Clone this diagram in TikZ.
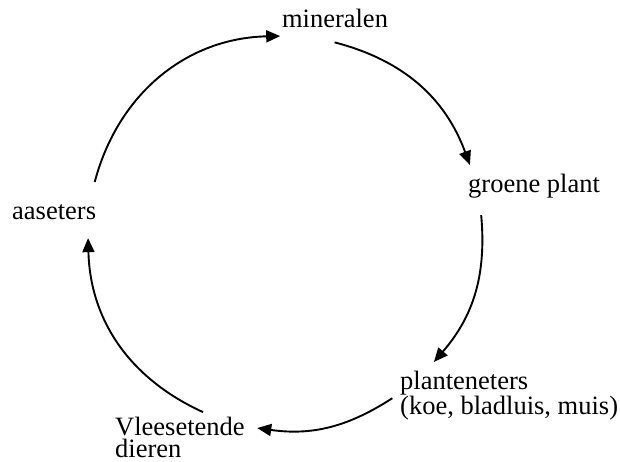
\documentclass[tikz,border=0pt]{standalone}
\usepackage{fontspec}
\setmainfont{Liberation Serif}
\usetikzlibrary{arrows.meta}

\begin{document}
\begin{tikzpicture}[
x=1pt, y=1pt,
label/.style={inner sep=0pt, font=\fontsize{26.5}{22}\selectfont},
arrow/.style={-{Triangle[length=14pt,width=12pt]}, line width=1.9pt}
]
\useasboundingbox (0,0) rectangle (620,462);

% labels
\node[label,anchor=base] (mineralen) at (335,434) {mineralen};
\node[label,anchor=base west] (plant) at (468,269) {groene plant};
\node[label,anchor=north west,align=left] (planteneters) at (400,91) {planteneters\\(koe, bladluis, muis)};
\node[label,anchor=north west,align=left] (vleeseters) at (115,45) {Vleesetende\\dieren};
\node[label,anchor=base west] (aaseters) at (12,242) {aaseters};

% points on the cycle
\coordinate (ctr) at (285,229);
\coordinate (aasOut) at ([shift={(165:197)}]ctr);
\coordinate (minIn) at ([shift={(91.4:197)}]ctr);
\coordinate (minOut) at ([shift={(75.4:197)}]ctr);
\coordinate (plantIn) at ([shift={(20.2:197)}]ctr);
\coordinate (plantOut) at ([shift={(5.2:197)}]ctr);
\coordinate (pletIn) at ([shift={(-40.9:197)}]ctr);
\coordinate (pletOut) at ([shift={(-57:197)}]ctr);
\coordinate (vleesIn) at ([shift={(-98.1:197)}]ctr);
\coordinate (vleesOut) at ([shift={(-114.6:197)}]ctr);
\coordinate (aasIn) at ([shift={(-178.5:197)}]ctr);

\draw[arrow] (aasOut) to[bend left=37] (minIn);
\draw[arrow] (minOut) to[bend left=27.6] (plantIn);
\draw[arrow] (plantOut) to[bend left=23] (pletIn);
\draw[arrow] (pletOut) to[bend left=20.5] (vleesIn);
\draw[arrow] (vleesOut) to[bend left=32] (aasIn);

\end{tikzpicture}
\end{document}
